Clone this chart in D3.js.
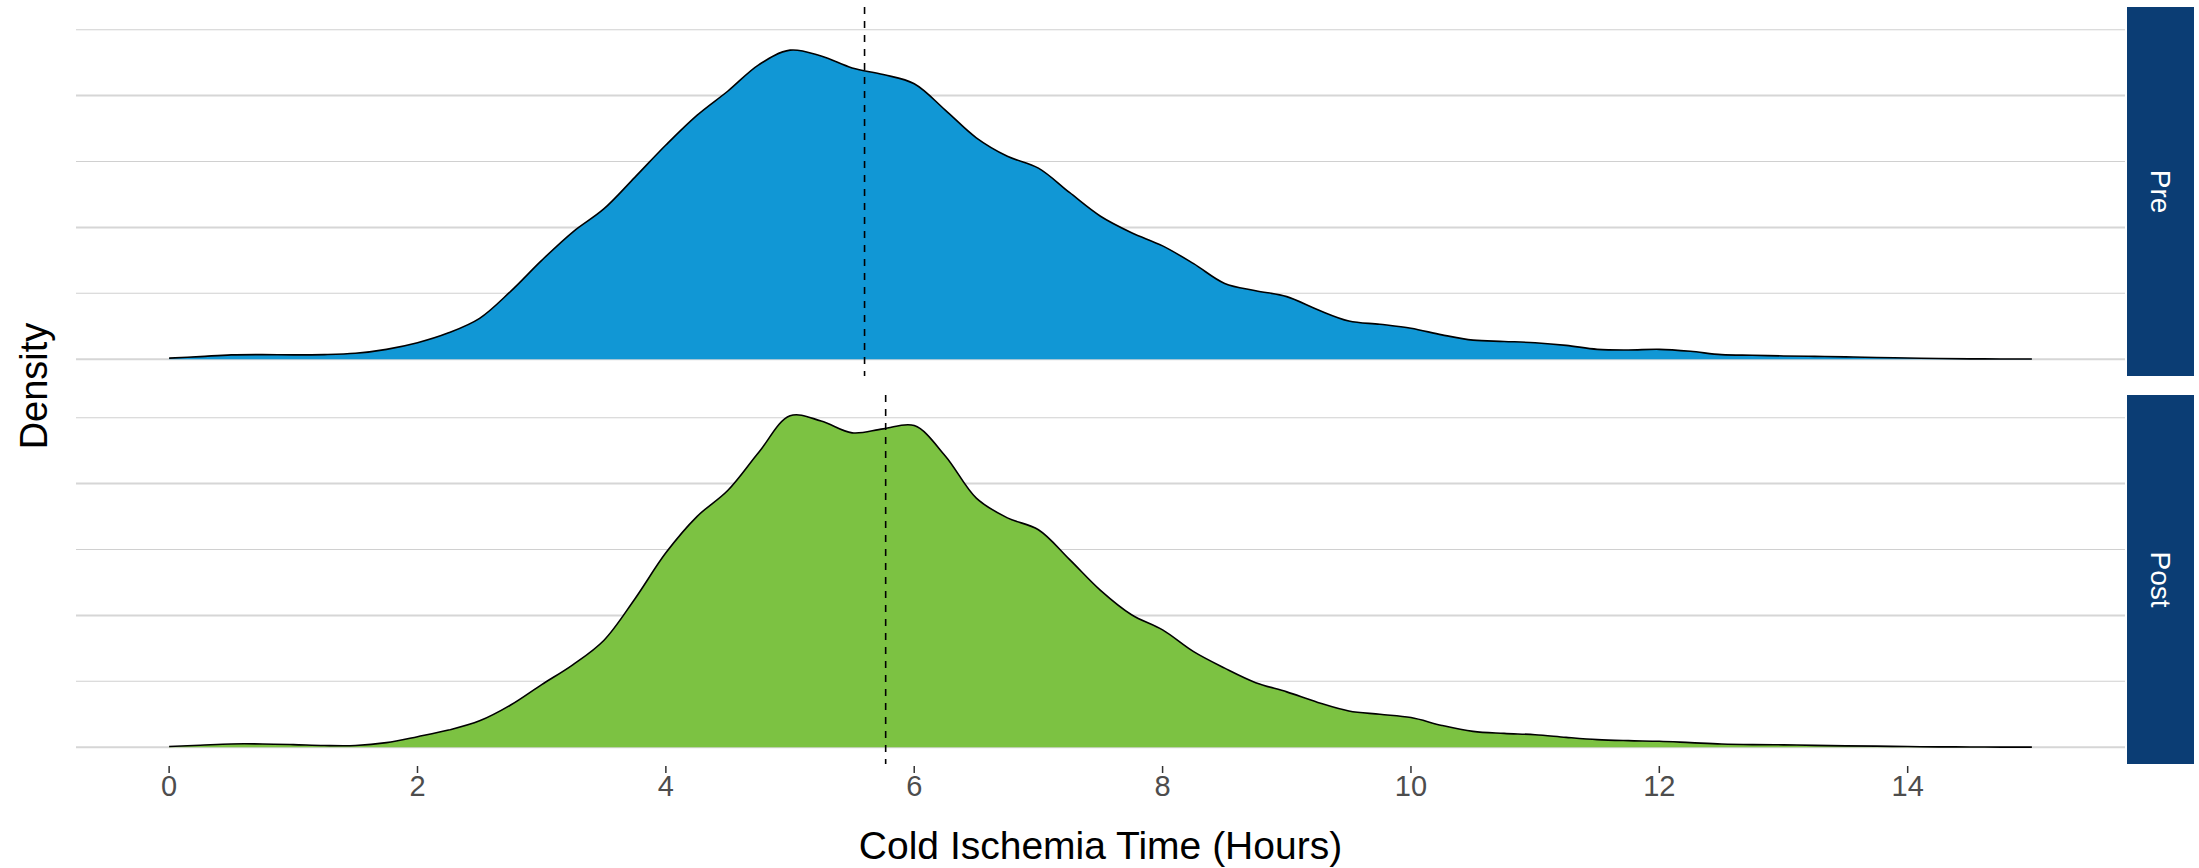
<!DOCTYPE html>
<html><head><meta charset="utf-8">
<script src="https://cdn.jsdelivr.net/npm/d3@7"></script>
<style>body{margin:0;background:#fff}svg{display:block}text{font-family:"Liberation Sans",Arial,Helvetica,sans-serif}</style>
</head><body>
<svg id="c" width="2199" height="868"></svg>
<script>
// ---- data ----
const hours = [0,0.25,0.5,0.75,1,1.25,1.5,1.75,2,2.25,2.5,2.75,3,3.25,3.5,3.75,4,4.25,4.5,4.75,5,5.25,5.5,5.75,6,6.25,6.5,6.75,7,7.25,7.5,7.75,8,8.25,8.5,8.75,9,9.25,9.5,9.75,10,10.25,10.5,10.75,11,11.25,11.5,11.75,12,12.25,12.5,12.75,13,13.25,13.5,13.75,14,14.25,14.5,14.75,15];
const preDensity = [0.0008,0.002,0.0033,0.0035,0.0033,0.0035,0.0045,0.0075,0.0125,0.020,0.031,0.0515,0.075,0.0965,0.114,0.138,0.1625,0.185,0.2035,0.2235,0.2345,0.230,0.221,0.216,0.209,0.189,0.168,0.154,0.145,0.1265,0.1085,0.096,0.086,0.0725,0.0575,0.052,0.0475,0.0375,0.029,0.0265,0.0235,0.0185,0.0145,0.0135,0.0125,0.0105,0.0075,0.007,0.0075,0.006,0.0035,0.003,0.0025,0.0022,0.0018,0.0013,0.0009,0.0005,0.0003,0.0002,0.0002];
const postDensity = [0.0005,0.0015,0.0025,0.0025,0.002,0.0013,0.0013,0.0035,0.008,0.013,0.020,0.032,0.0475,0.0625,0.081,0.1125,0.1475,0.175,0.195,0.224,0.2515,0.2475,0.2385,0.2415,0.244,0.221,0.189,0.174,0.165,0.1425,0.119,0.1005,0.089,0.0725,0.060,0.049,0.042,0.034,0.0275,0.025,0.0225,0.0165,0.012,0.0105,0.0095,0.0075,0.0058,0.005,0.0045,0.0035,0.0025,0.002,0.0018,0.0014,0.001,0.0008,0.0005,0.0003,0.0002,0.0001,0.0001];
const groups = ["Pre","Post"];
const groupMeans = [5.60, 5.77];
const groupColors = ["#1197d5","#7cc242"];
const xTicks = [0,2,4,6,8,10,12,14];
const yGrid = [0,0.05,0.1,0.15,0.2,0.25];
const densityMax = 0.2545;
const xLabel = "Cold Ischemia Time (Hours)";
const yLabel = "Density";

// ---- layout ----
const svg = d3.select("#c");
const left = 76, right = 2125;
const panels = [{top:7,bottom:376},{top:395,bottom:764}];
const stripX = 2127, stripW = 67;

const xExp = 15*0.05;
const x = d3.scaleLinear().domain([0-xExp, 15+xExp]).range([left, right]);
const series = [preDensity, postDensity];

groups.forEach((g,i)=>{
  const p = panels[i];
  const yExp = densityMax*0.05;
  const y = d3.scaleLinear().domain([-yExp, densityMax+yExp]).range([p.bottom, p.top]);
  const gp = svg.append("g");
  yGrid.forEach((v,k)=>{
    gp.append("line").attr("x1",left).attr("x2",right)
      .attr("y1",y(v)).attr("y2",y(v))
      .attr("stroke", k%2===0 ? "#d6d6d6" : "#d0d0d0")
      .attr("stroke-width", k%2===0 ? 2 : 1.1);
  });
  const data = hours.map((h,j)=>({h, d:series[i][j]}));
  const area = d3.area().x(d=>x(d.h)).y0(y(0)).y1(d=>y(d.d)).curve(d3.curveCatmullRom.alpha(0.5));
  const line = d3.line().x(d=>x(d.h)).y(d=>y(d.d)).curve(d3.curveCatmullRom.alpha(0.5));
  gp.append("path").datum(data).attr("d",area).attr("fill",groupColors[i]);
  gp.append("path").datum(data).attr("d",line).attr("fill","none").attr("stroke","#000").attr("stroke-width",1.6);
  gp.append("line").attr("x1",x(groupMeans[i])).attr("x2",x(groupMeans[i]))
    .attr("y1",p.top).attr("y2",p.bottom)
    .attr("stroke","#000").attr("stroke-width",1.6).attr("stroke-dasharray","7,7");
  svg.append("rect").attr("x",stripX).attr("y",p.top).attr("width",stripW).attr("height",p.bottom-p.top).attr("fill","#0b3d74");
  svg.append("text").attr("transform",`translate(${stripX+stripW/2},${(p.top+p.bottom)/2}) rotate(90)`)
    .attr("text-anchor","middle").attr("dominant-baseline","central")
    .attr("fill","#fff").attr("font-size",28).text(g);
});

const axB = panels[1].bottom;
const ax = svg.append("g");
xTicks.forEach(t=>{
  ax.append("line").attr("x1",x(t)).attr("x2",x(t)).attr("y1",axB+2).attr("y2",axB+9).attr("stroke","#333").attr("stroke-width",1.5);
  ax.append("text").attr("x",x(t)).attr("y",796).attr("text-anchor","middle").attr("fill","#4d4d4d").attr("font-size",29).text(t);
});
svg.append("text").attr("x",(left+right)/2).attr("y",859).attr("text-anchor","middle").attr("fill","#000").attr("font-size",39).text(xLabel);
svg.append("text").attr("transform",`translate(47,386) rotate(-90)`).attr("text-anchor","middle").attr("fill","#000").attr("font-size",38).text(yLabel);
</script>
</body></html>
